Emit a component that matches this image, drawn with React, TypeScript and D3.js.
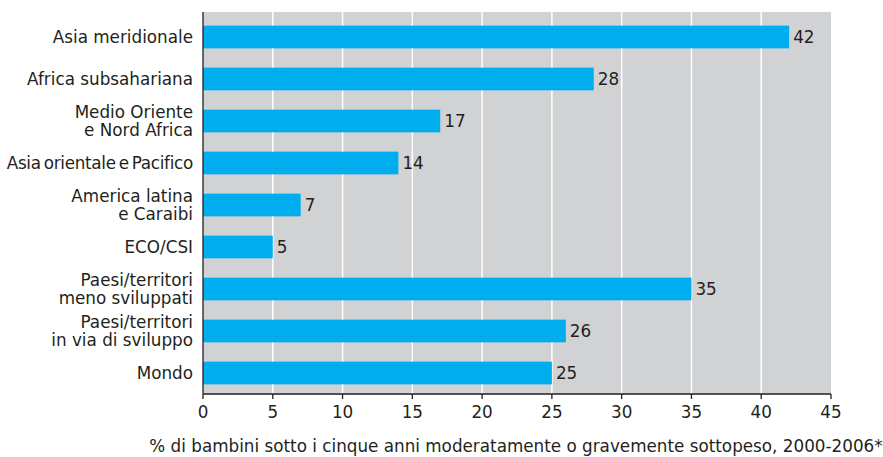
import React from "react";
import * as d3 from "d3";

const categories: string[][] = [
  ["Asia meridionale"],
  ["Africa subsahariana"],
  ["Medio Oriente", "e Nord Africa"],
  ["Asia orientale e Pacifico"],
  ["America latina", "e Caraibi"],
  ["ECO/CSI"],
  ["Paesi/territori", "meno sviluppati"],
  ["Paesi/territori", "in via di sviluppo"],
  ["Mondo"],
];
const values: number[] = [42, 28, 17, 14, 7, 5, 35, 26, 25];
const xTicks: number[] = [0, 5, 10, 15, 20, 25, 30, 35, 40, 45];
const xTitle =
  "% di bambini sotto i cinque anni moderatamente o gravemente sottopeso, 2000-2006*";

const W = 883;
const H = 457;
const left = 203;
const right = 831;
const top = 12;
const bottom = 394;
const textColor = "#231f20";
const font = "'DejaVu Sans', Verdana, sans-serif";
const fs = 16.8;

export default function App() {
  const keys = categories.map((c) => c.join(" "));
  const x = d3.scaleLinear().domain([0, 45]).range([left, right]);
  const y = d3
    .scaleBand<string>()
    .domain(keys)
    .range([16, bottom])
    .paddingInner(0.46)
    .paddingOuter(0.23);
  const bw = y.bandwidth();

  return (
    <svg
      width={W}
      height={H}
      style={{ position: "absolute", left: 0, top: 0, fontFamily: font }}
    >
      <rect x={left} y={top} width={right - left} height={bottom - top} fill="#d1d2d4" />
      {xTicks
        .filter((t) => t > 0 && t < 45)
        .map((t) => (
          <line
            key={"g" + t}
            x1={x(t)}
            x2={x(t)}
            y1={top}
            y2={bottom}
            stroke="#ffffff"
            strokeWidth={1.5}
          />
        ))}
      {values.map((v, i) => (
        <rect
          key={"b" + i}
          x={x(0)}
          y={y(keys[i])}
          width={x(v) - x(0)}
          height={bw}
          fill="#00aeef"
        />
      ))}
      {values.map((v, i) => (
        <text
          key={"v" + i}
          x={x(v) + 4}
          y={(y(keys[i]) as number) + bw / 2}
          dy="0.36em"
          fontSize={fs}
          fill={textColor}
        >
          {v}
        </text>
      ))}
      {categories.map((lines, i) => {
        const cy = (y(keys[i]) as number) + bw / 2;
        const lh = 18;
        const start = cy - ((lines.length - 1) * lh) / 2;
        const tight = lines.length === 1 && lines[0].length > 20;
        return (
          <text
            key={"c" + i}
            x={193}
            textAnchor="end"
            fontSize={fs}
            fill={textColor}
            letterSpacing={tight ? -0.3 : 0}
            wordSpacing={tight ? -2 : 0}
          >
            {lines.map((l, j) => (
              <tspan key={j} x={193} y={start + j * lh} dy="0.36em">
                {l}
              </tspan>
            ))}
          </text>
        );
      })}
      <line x1={left} x2={left} y1={top} y2={bottom} stroke={textColor} strokeWidth={1.3} />
      <line x1={left} x2={right} y1={bottom} y2={bottom} stroke={textColor} strokeWidth={1.3} />
      {xTicks.map((t) => (
        <g key={"t" + t}>
          <line x1={x(t)} x2={x(t)} y1={bottom} y2={bottom + 5} stroke={textColor} strokeWidth={1.3} />
          <text
            x={x(t)}
            y={412}
            dy="0.36em"
            textAnchor="middle"
            fontSize={fs}
            fill={textColor}
          >
            {t}
          </text>
        </g>
      ))}
      <text x={516} y={452} textAnchor="middle" fontSize={fs} fill={textColor}>
        {xTitle}
      </text>
    </svg>
  );
}
